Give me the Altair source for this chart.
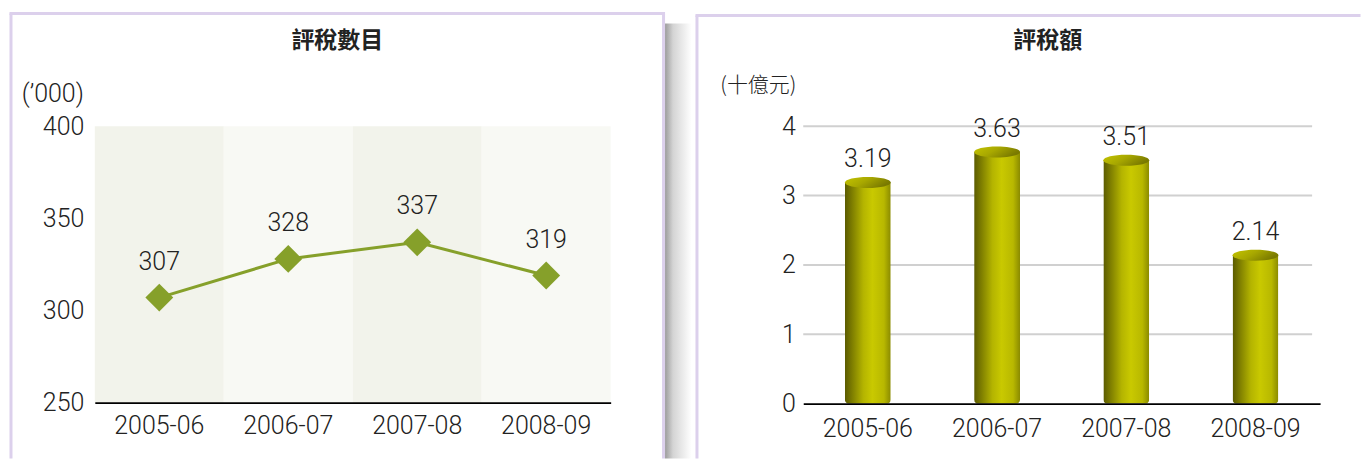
import altair as alt
import pandas as pd

# ---- data ----
years = ["2005-06", "2006-07", "2007-08", "2008-09"]
cases = [307, 328, 337, 319]          # 評稅數目 ('000)
amounts = [3.19, 3.63, 3.51, 2.14]    # 評稅額 (十億元)
left_ticks = [250, 300, 350, 400]
right_ticks = [0, 1, 2, 3, 4]
left_title = "評稅數目"
right_title = "評稅額"
left_unit = "(’000)"
right_unit = "(十億元)"

# ---- styles ----
NUM_FONT = "Roboto"
NUM_W = 300
NUM_SIZE = 25
CJK_FONT = "Noto Sans CJK TC"
TXT = "#222222"
LAV = "#dcd0ec"
GREEN = "#86a02a"
LW, LH = 517, 277
RW, RH = 518, 278

one = pd.DataFrame({"k": [0]})
left_df = pd.DataFrame({
    "year": years,
    "cases": cases,
    "shade": ["#f2f3eb" if i % 2 == 0 else "#f8f9f4" for i in range(len(years))],
})
right_df = pd.DataFrame({"year": years, "amount": amounts})
grid_df = pd.DataFrame({"amount": [t for t in right_ticks if t > 0]})


def card_layers(x0, x1, y0, y1, right_border=True, shadow=False):
    layers = []
    base = alt.Chart(one)
    if shadow:
        grad = alt.LinearGradient(
            gradient="linear", x1=0, x2=1, y1=0, y2=0,
            stops=[alt.GradientStop(color="#9c9c9c", offset=0),
                   alt.GradientStop(color="#d4d4d4", offset=0.3),
                   alt.GradientStop(color="#ffffff", offset=1)])
        layers.append(base.mark_rect(fill=grad).encode(
            x=alt.value(x1 + 1.5), x2=alt.value(x1 + 28),
            y=alt.value(y0 + 10), y2=alt.value(y1)))
    layers.append(base.mark_rect(fill="white").encode(
        x=alt.value(x0), x2=alt.value(x1), y=alt.value(y0), y2=alt.value(y1)))
    layers.append(base.mark_rule(color=LAV, strokeWidth=3).encode(
        x=alt.value(x0 - 1.5), x2=alt.value(x1 + 1.5), y=alt.value(y0)))
    layers.append(base.mark_rule(color=LAV, strokeWidth=3).encode(
        x=alt.value(x0), y=alt.value(y0), y2=alt.value(y1)))
    if right_border:
        layers.append(base.mark_rule(color=LAV, strokeWidth=3).encode(
            x=alt.value(x1), y=alt.value(y0), y2=alt.value(y1)))
    return layers


def text_layer(txt, x, y, font, size, weight="normal", align="center"):
    return alt.Chart(one).mark_text(
        font=font, fontSize=size, fontWeight=weight, color=TXT,
        align=align, baseline="middle").encode(
        x=alt.value(x), y=alt.value(y), text=alt.value(txt))


def x_axis(pad):
    return alt.Axis(title=None, labelAngle=0, ticks=False, domainColor="black",
                    domainWidth=2, labelPadding=pad, labelFontSize=NUM_SIZE,
                    labelFont=NUM_FONT, labelFontWeight=NUM_W, labelColor=TXT,
                    grid=False, zindex=1)


def y_axis(vals, pad):
    return alt.Axis(title=None, values=vals, domain=False, ticks=False,
                    grid=False, labelPadding=pad, labelFontSize=NUM_SIZE,
                    labelFont=NUM_FONT, labelFontWeight=NUM_W, labelColor=TXT,
                    zindex=1)


# ---------------- left panel ----------------
lx = alt.X("year:N", sort=years, scale=alt.Scale(paddingInner=0, paddingOuter=0),
           axis=x_axis(11))
ly = alt.Y("cases:Q", scale=alt.Scale(domain=[250, 400], nice=False, zero=False),
           axis=y_axis(left_ticks, 11))

lbase = alt.Chart(left_df)
shade = lbase.mark_rect().encode(
    x=lx, y=alt.value(0), y2=alt.value(LH), color=alt.Color("shade:N", scale=None))
line = lbase.mark_line(color=GREEN, strokeWidth=3).encode(x=lx, y=ly)
pts = lbase.mark_point(shape="diamond", size=780, filled=True, color=GREEN,
                       opacity=1).encode(x=lx, y=ly)
llab = lbase.mark_text(font=NUM_FONT, fontSize=NUM_SIZE, fontWeight=NUM_W, color=TXT,
                       dy=-36, baseline="middle").encode(x=lx, y=ly, text="cases:Q")

left = alt.layer(
    *card_layers(-84, 570, -113, 333, right_border=True, shadow=True),
    shade, line, pts, llab,
    text_layer(left_title, 243, -85, CJK_FONT, 23, "bold"),
    text_layer(left_unit, -11, -32, NUM_FONT, NUM_SIZE, NUM_W, align="right"),
).properties(width=LW, height=LH)

# ---------------- right panel ----------------
rx = alt.X("year:N", sort=years, scale=alt.Scale(paddingInner=0, paddingOuter=0),
           axis=x_axis(13))
ry = alt.Y("amount:Q", scale=alt.Scale(domain=[0, 4], nice=False),
           axis=y_axis(right_ticks, 8))

body_grad = alt.LinearGradient(
    gradient="linear", x1=0, x2=1, y1=0, y2=0,
    stops=[alt.GradientStop(color="#5a5a00", offset=0),
           alt.GradientStop(color="#7c7c00", offset=0.15),
           alt.GradientStop(color="#b4b400", offset=0.4),
           alt.GradientStop(color="#c9c900", offset=0.6),
           alt.GradientStop(color="#b8b800", offset=0.85),
           alt.GradientStop(color="#8a8a00", offset=1)])
cap_grad = alt.LinearGradient(
    gradient="linear", x1=0, x2=1, y1=0, y2=0.4,
    stops=[alt.GradientStop(color="#c4c400", offset=0),
           alt.GradientStop(color="#a8a800", offset=0.5),
           alt.GradientStop(color="#7a7a00", offset=1)])

grid = alt.Chart(grid_df).mark_rule(color="#d0d0d0", strokeWidth=2).encode(
    y=ry, x=alt.value(0), x2=alt.value(RW - 8))
rbase = alt.Chart(right_df)
bars = rbase.mark_bar(size=46, fill=body_grad,
                      cornerRadiusBottomLeft=4, cornerRadiusBottomRight=4).encode(
    x=rx, y=ry)
caps = rbase.mark_point(
    shape="M -1 0 A 1 0.24 0 1 1 1 0 A 1 0.24 0 1 1 -1 0 Z",
    size=46 * 46, filled=True, fill=cap_grad, strokeWidth=0, opacity=1).encode(
    x=rx, y=ry)
rlab = rbase.mark_text(font=NUM_FONT, fontSize=NUM_SIZE, fontWeight=NUM_W, color=TXT,
                       dy=-15, baseline="alphabetic").encode(
    x=rx, y=ry, text=alt.Text("amount:Q", format=".2f"))

right = alt.layer(
    *card_layers(-106.5, 557, -111, 333, right_border=False),
    grid, bars, caps, rlab,
    text_layer(right_title, 245, -85, CJK_FONT, 23, "bold"),
    text_layer(right_unit, -45, -40, CJK_FONT, 21, 300),
).properties(width=RW, height=RH)

chart = alt.hconcat(left, right, spacing=193, bounds="flush").properties(
    padding={"left": 0, "top": 3, "right": 0, "bottom": 0}
).configure(background="white").configure_view(strokeWidth=0)

chart.save("out.html", embed_options={"renderer": "svg", "actions": False})
